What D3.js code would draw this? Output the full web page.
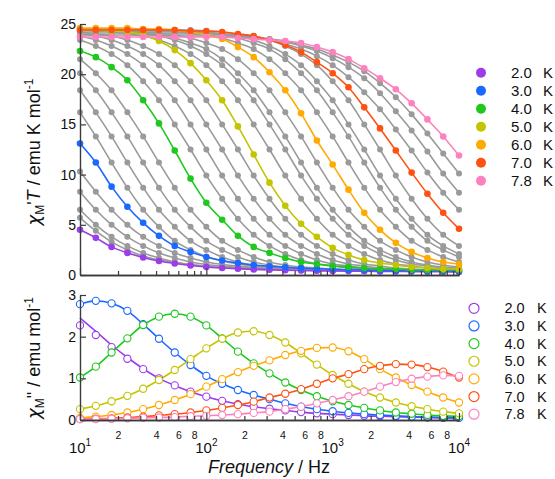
<!DOCTYPE html>
<html><head><meta charset="utf-8">
<script src="https://cdn.jsdelivr.net/npm/d3@7"></script>
<style>
body{margin:0;background:#fff}
svg{display:block}
text{font-family:"Liberation Sans",Arial,Helvetica,sans-serif;fill:#111}
</style>
</head><body>
<svg id="c" width="555" height="479"></svg>
<script>
// ---------------- DATA ----------------
const frequencies = [10, 13.34, 17.78, 23.71, 31.62, 42.17, 56.23, 74.99, 100, 133.4, 177.8, 237.1, 316.2, 421.7, 562.3, 749.9, 1000, 1334, 1778, 2371, 3162, 4217, 5623, 7499, 10000];
const temperatures = [2.0, 2.2, 2.4, 2.6, 2.8, 3.0, 3.2, 3.4, 3.6, 3.8, 4.0, 4.2, 4.4, 4.6, 4.8, 5.0, 5.2, 5.4, 5.6, 5.8, 6.0, 6.2, 6.4, 6.6, 6.8, 7.0, 7.2, 7.4, 7.6, 7.8];
const legendTemps = [2.0, 3.0, 4.0, 5.0, 6.0, 7.0, 7.8];
const yTopTicks = [0, 5, 10, 15, 20, 25];
const yBotTicks = [0, 1, 2, 3];
const minorLabels = ["2", "4", "6", "8"];

// chi'T (emu K mol-1) per temperature
const chiT_20 = [4.5,3.7,2.8,2.2,1.75,1.4,1.15,0.95,0.8,0.7,0.62,0.56,0.52,0.48,0.45,0.43,0.41,0.39,0.37,0.36,0.35,0.34,0.33,0.32,0.3];
const chiT_22 = [5.7,4.4,3.3,2.5,1.9,1.5,1.25,1.02,0.86,0.74,0.65,0.58,0.53,0.5,0.47,0.45,0.44,0.43,0.42,0.41,0.4,0.39,0.38,0.37,0.36];
const chiT_24 = [6.5,5.0,3.8,2.9,2.2,1.7,1.3,1.05,0.88,0.76,0.67,0.6,0.55,0.51,0.48,0.46,0.45,0.44,0.43,0.42,0.41,0.4,0.39,0.38,0.37];
const chiT_26 = [8.3,6.5,5.0,3.8,2.9,2.2,1.7,1.3,1.05,0.88,0.76,0.67,0.6,0.55,0.51,0.48,0.46,0.45,0.44,0.43,0.42,0.41,0.4,0.39,0.38];
const chiT_28 = [10.3,8.3,6.5,5.0,3.8,2.9,2.2,1.7,1.3,1.05,0.88,0.76,0.67,0.6,0.55,0.51,0.48,0.46,0.45,0.44,0.43,0.42,0.41,0.4,0.39];
const chiT_30 = [13.1,11.2,8.8,6.8,5.2,3.9,2.9,2.3,1.8,1.45,1.2,1.0,0.87,0.77,0.68,0.62,0.57,0.53,0.5,0.47,0.45,0.44,0.43,0.42,0.4];
const chiT_32 = [16.2,13.8,11.2,8.7,6.5,4.8,3.4,2.5,1.85,1.4,1.1,0.9,0.78,0.68,0.6,0.55,0.5,0.47,0.45,0.43,0.42,0.41,0.4,0.4,0.4];
const chiT_34 = [18.4,16.2,13.8,11.2,8.7,6.5,4.8,3.4,2.5,1.8,1.3,1.0,0.8,0.7,0.6,0.5,0.5,0.5,0.4,0.4,0.4,0.4,0.4,0.4,0.4];
const chiT_36 = [20.1,18.4,16.2,13.8,11.2,8.7,6.5,4.8,3.4,2.5,1.8,1.3,1.0,0.8,0.7,0.6,0.5,0.5,0.5,0.4,0.4,0.4,0.4,0.4,0.4];
const chiT_38 = [21.5,20.1,18.4,16.2,13.8,11.2,8.7,6.5,4.8,3.4,2.5,1.8,1.3,1.0,0.8,0.7,0.6,0.5,0.5,0.5,0.4,0.4,0.4,0.4,0.4];
const chiT_40 = [22.3,21.7,20.7,19.4,17.4,15.1,12.4,9.6,7.2,5.5,3.9,2.8,2.2,1.7,1.3,1.1,0.9,0.8,0.7,0.6,0.6,0.5,0.5,0.5,0.5];
const chiT_42 = [23.4,22.8,22.0,20.9,19.3,17.4,15.0,12.5,9.9,7.6,5.6,4.0,2.9,2.1,1.5,1.1,0.9,0.7,0.6,0.5,0.5,0.5,0.4,0.4,0.4];
const chiT_44 = [23.8,23.4,22.8,22.0,20.9,19.3,17.4,15.0,12.5,9.9,7.6,5.6,4.0,2.9,2.1,1.5,1.1,0.9,0.7,0.6,0.5,0.5,0.5,0.4,0.4];
const chiT_46 = [24.0,23.8,23.4,22.8,22.0,20.9,19.3,17.4,15.0,12.5,9.9,7.6,5.6,4.0,2.9,2.1,1.5,1.1,0.9,0.7,0.6,0.5,0.5,0.5,0.4];
const chiT_48 = [24.2,24.0,23.8,23.4,22.8,22.0,20.9,19.3,17.4,15.0,12.5,9.9,7.6,5.6,4.0,2.9,2.1,1.5,1.1,0.9,0.7,0.6,0.5,0.5,0.5];
const chiT_50 = [24.4,24.4,24.3,24.2,23.9,23.3,22.4,21.1,19.4,17.4,14.8,12.0,9.2,6.9,5.1,3.8,2.7,2.0,1.5,1.2,1.0,0.8,0.7,0.6,0.6];
const chiT_52 = [24.4,24.3,24.2,24.0,23.8,23.4,22.8,22.0,20.9,19.3,17.4,15.0,12.5,9.9,7.6,5.6,4.0,2.9,2.1,1.5,1.1,0.9,0.7,0.6,0.5];
const chiT_54 = [24.4,24.4,24.3,24.2,24.0,23.8,23.4,22.8,22.0,20.9,19.3,17.4,15.0,12.5,9.9,7.6,5.6,4.0,2.9,2.1,1.5,1.1,0.9,0.7,0.6];
const chiT_56 = [24.4,24.4,24.3,24.2,24.1,23.9,23.6,23.1,22.5,21.5,20.1,18.4,16.2,13.8,11.2,8.7,6.5,4.8,3.4,2.5,1.8,1.3,1.0,0.8,0.7];
const chiT_58 = [24.5,24.4,24.4,24.3,24.2,24.1,23.9,23.6,23.1,22.5,21.5,20.1,18.4,16.2,13.8,11.2,8.7,6.5,4.8,3.4,2.5,1.8,1.3,1.0,0.8];
const chiT_60 = [24.6,24.6,24.6,24.6,24.5,24.5,24.4,24.2,23.9,23.5,22.7,21.7,20.2,18.4,16.1,13.4,11.0,8.5,6.2,4.5,3.2,2.3,1.7,1.3,1.1];
const chiT_62 = [24.5,24.5,24.5,24.4,24.4,24.3,24.2,24.1,23.9,23.6,23.1,22.5,21.5,20.1,18.4,16.2,13.8,11.2,8.7,6.5,4.8,3.4,2.5,1.8,1.3];
const chiT_64 = [24.5,24.5,24.5,24.5,24.4,24.4,24.3,24.2,24.1,23.9,23.6,23.1,22.5,21.5,20.1,18.4,16.2,13.8,11.2,8.7,6.5,4.8,3.4,2.5,1.8];
const chiT_66 = [24.5,24.5,24.5,24.5,24.4,24.4,24.4,24.3,24.2,24.0,23.8,23.4,22.8,22.0,20.9,19.3,17.4,15.0,12.5,9.9,7.6,5.6,4.0,2.9,2.1];
const chiT_68 = [24.5,24.5,24.5,24.5,24.5,24.4,24.4,24.4,24.3,24.2,24.0,23.8,23.4,22.8,22.0,20.9,19.3,17.4,15.0,12.5,9.9,7.6,5.6,4.0,2.9];
const chiT_70 = [24.4,24.4,24.4,24.4,24.4,24.4,24.4,24.3,24.3,24.2,24.0,23.8,23.4,22.9,22.2,21.2,20.1,18.7,16.7,14.6,12.4,10.2,8.1,6.2,4.6];
const chiT_72 = [24.3,24.3,24.3,24.3,24.2,24.2,24.2,24.1,24.1,24.0,23.9,23.7,23.4,23.0,22.5,21.8,20.9,19.7,18.2,16.5,14.5,12.4,10.2,8.2,6.5];
const chiT_74 = [24.1,24.1,24.1,24.1,24.1,24.0,24.0,24.0,23.9,23.9,23.8,23.7,23.5,23.2,22.8,22.3,21.6,20.7,19.6,18.1,16.3,14.4,12.3,10.1,8.2];
const chiT_76 = [23.9,23.9,23.9,23.9,23.9,23.9,23.8,23.8,23.8,23.7,23.7,23.6,23.5,23.3,22.9,22.5,21.9,21.2,20.3,19.1,17.7,16.0,14.1,12.1,10.1];
const chiT_78 = [23.7,23.7,23.7,23.7,23.7,23.7,23.7,23.7,23.7,23.7,23.6,23.5,23.4,23.3,23.1,22.7,22.2,21.5,20.6,19.6,18.5,17.1,15.5,13.8,11.9];

// chi'' (emu mol-1) for the highlighted temperatures
const chi2_20 = [2.27,2.04,1.75,1.47,1.22,1.0,0.83,0.68,0.56,0.46,0.38,0.32,0.27,0.23,0.19,0.16,0.14,0.12,0.1,0.09,0.08,0.07,0.06,0.05,0.05];
const chi2fit_20 = [2.45,2.13,1.8,1.5,1.23,1.0,0.83,0.68,0.56,0.46,0.38,0.32,0.27,0.23,0.19,0.16,0.14,0.12,0.1,0.09,0.08,0.07,0.06,0.05,0.05];
const chi2_30 = [2.78,2.86,2.8,2.62,2.3,1.95,1.62,1.32,1.06,0.87,0.72,0.6,0.5,0.4,0.32,0.26,0.21,0.17,0.14,0.12,0.1,0.08,0.07,0.06,0.05];
const chi2_40 = [1.02,1.28,1.62,1.96,2.28,2.48,2.55,2.48,2.27,1.96,1.64,1.36,1.12,0.9,0.72,0.57,0.45,0.36,0.29,0.23,0.18,0.15,0.12,0.1,0.09];
const chi2_50 = [0.26,0.34,0.45,0.58,0.75,0.96,1.2,1.46,1.72,1.95,2.1,2.13,2.04,1.86,1.6,1.33,1.08,0.87,0.68,0.54,0.42,0.33,0.26,0.2,0.16];
const chi2_60 = [0.05,0.08,0.12,0.18,0.26,0.36,0.48,0.62,0.8,0.98,1.15,1.3,1.43,1.56,1.66,1.73,1.74,1.65,1.46,1.22,1.02,0.84,0.68,0.54,0.42];
const chi2_70 = [0.02,0.03,0.04,0.06,0.08,0.11,0.14,0.18,0.23,0.29,0.36,0.44,0.54,0.63,0.74,0.87,1.0,1.1,1.22,1.3,1.34,1.33,1.27,1.16,1.02];
const chi2_78 = [0.02,0.02,0.03,0.04,0.05,0.06,0.07,0.09,0.1,0.12,0.14,0.17,0.2,0.26,0.32,0.4,0.48,0.57,0.68,0.8,0.91,0.99,1.04,1.07,1.06];

// ---------------- BUILD ----------------
const chiTSeries = [chiT_20,chiT_22,chiT_24,chiT_26,chiT_28,chiT_30,chiT_32,chiT_34,chiT_36,chiT_38,chiT_40,chiT_42,chiT_44,chiT_46,chiT_48,chiT_50,chiT_52,chiT_54,chiT_56,chiT_58,chiT_60,chiT_62,chiT_64,chiT_66,chiT_68,chiT_70,chiT_72,chiT_74,chiT_76,chiT_78];
const chi2Series = [chi2_20,chi2_30,chi2_40,chi2_50,chi2_60,chi2_70,chi2_78];
const chi2Fits = [chi2fit_20,chi2_30,chi2_40,chi2_50,chi2_60,chi2_70,chi2_78];

const colors = {"2.0":"#9b3de8","3.0":"#1a68ff","4.0":"#1ec81e","5.0":"#c4c400","6.0":"#ffaa00","7.0":"#ff5212","7.8":"#ff80bf"};
const GRAY = "#9a9a9a";
const AX = "#3a3a3a";

const svg = d3.select("#c");
const x = d3.scaleLog().domain([10, 10000]).range([80, 459]);
const yT = d3.scaleLinear().domain([0, 25]).range([275, 24]);
const yB = d3.scaleLinear().domain([0, 3]).range([420, 295]);

const majors = [10, 100, 1000, 10000];
const minors = [];
[10, 100, 1000].forEach(d => { for (let k = 2; k <= 9; k++) minors.push(d * k); });
const minorLab = [];
[10, 100, 1000].forEach(d => { minorLabels.forEach(s => minorLab.push(d * (+s))); });

function styleAxis(g) {
  g.selectAll(".domain").attr("stroke", AX).attr("stroke-width", 1.4);
  g.selectAll(".tick line").attr("stroke", AX).attr("stroke-width", 1.2);
  g.selectAll("text").attr("fill", "#111");
}

function xAxes(yPos, withLabels) {
  const gMin = svg.append("g").attr("transform", `translate(0,${yPos})`)
    .call(d3.axisBottom(x).tickValues(minors).tickSizeInner(-4).tickSizeOuter(0).tickFormat(""));
  styleAxis(gMin);
  const gMaj = svg.append("g").attr("transform", `translate(0,${yPos})`)
    .call(d3.axisBottom(x).tickValues(majors).tickSizeInner(-7).tickSizeOuter(0).tickFormat(""));
  styleAxis(gMaj);
  if (withLabels) {
    const gL = svg.append("g").attr("transform", `translate(0,${yPos})`)
      .call(d3.axisBottom(x).tickValues(minorLab).tickSize(0).tickPadding(12)
        .tickFormat(d => String(Math.round(d / Math.pow(10, Math.floor(Math.log10(d) + 1e-9))))));
    gL.select(".domain").remove();
    gL.selectAll("text").attr("font-size", 10.5).attr("font-family", "Liberation Sans, Arial, sans-serif").attr("fill", "#111");
    majors.forEach((m, i) => {
      const t = svg.append("text").attr("x", x(m)).attr("y", yPos + 32.5)
        .attr("text-anchor", "middle").attr("font-size", 15);
      t.append("tspan").text("10");
      t.append("tspan").attr("dy", -7).attr("font-size", 10).text(String(i + 1));
    });
  }
}

function yAxis(scale, ticks) {
  const g = svg.append("g").attr("transform", "translate(80,0)")
    .call(d3.axisLeft(scale).tickValues(ticks).tickFormat(d3.format("d")).tickSizeInner(-6).tickSizeOuter(0).tickPadding(4));
  styleAxis(g);
  g.selectAll("text").attr("font-size", 14).attr("font-family", "Liberation Sans, Arial, sans-serif");
}

// ---- top panel ----
const lineT = d3.line().x((d, i) => x(frequencies[i])).y(d => yT(d)).curve(d3.curveMonotoneX);
const topData = temperatures.map((t, i) => ({ t: t.toFixed(1), v: chiTSeries[i] }));
const grays = topData.filter(d => !colors[d.t]);
const colored = topData.filter(d => colors[d.t]);

const gTop = svg.append("g");
function drawTop(list, isColored) {
  list.forEach(s => {
    const c = isColored ? colors[s.t] : GRAY;
    gTop.append("path").attr("d", lineT(s.v)).attr("fill", "none").attr("stroke", c).attr("stroke-width", 1.6);
    gTop.selectAll(null).data(s.v).enter().append("circle")
      .attr("cx", (d, i) => x(frequencies[i])).attr("cy", d => yT(d))
      .attr("r", isColored ? 3.3 : 3).attr("fill", c);
  });
}
drawTop(grays, false);
drawTop(colored, true);

yAxis(yT, yTopTicks);
xAxes(275, false);

// ---- bottom panel ----
const lineB = d3.line().x((d, i) => x(frequencies[i])).y(d => yB(d)).curve(d3.curveMonotoneX);
const gBot = svg.append("g");
legendTemps.forEach((t, k) => {
  const c = colors[t.toFixed(1)];
  gBot.append("path").attr("d", lineB(chi2Fits[k])).attr("fill", "none").attr("stroke", c).attr("stroke-width", 1.6);
});
legendTemps.forEach((t, k) => {
  const c = colors[t.toFixed(1)];
  gBot.selectAll(null).data(chi2Series[k]).enter().append("circle")
    .attr("cx", (d, i) => x(frequencies[i])).attr("cy", d => yB(d))
    .attr("r", 3.6).attr("fill", "#fff").attr("stroke", c).attr("stroke-width", 1.1);
});

yAxis(yB, yBotTicks);
xAxes(420, true);

// ---- axis titles ----
const CHI_FONT = "DejaVu Sans, Liberation Sans, sans-serif";
const t1 = svg.append("text").attr("transform", "translate(40,152) rotate(-90)")
  .attr("text-anchor", "middle").attr("font-size", 18);
t1.append("tspan").attr("font-family", CHI_FONT).attr("font-style", "italic").text("χ");
t1.append("tspan").attr("font-size", 12).attr("dy", 4).text("M");
t1.append("tspan").attr("dy", -4).text("'");
t1.append("tspan").attr("font-style", "italic").text("T");
t1.append("tspan").text(" / emu K mol");
t1.append("tspan").attr("font-size", 12).attr("dy", -7).text("-1");

const t2 = svg.append("text").attr("transform", "translate(40,358) rotate(-90)")
  .attr("text-anchor", "middle").attr("font-size", 18);
t2.append("tspan").attr("font-family", CHI_FONT).attr("font-style", "italic").text("χ");
t2.append("tspan").attr("font-size", 12).attr("dy", 4).text("M");
t2.append("tspan").attr("dy", -4).text("\" / emu mol");
t2.append("tspan").attr("font-size", 12).attr("dy", -7).text("-1");

const t3 = svg.append("text").attr("x", 269).attr("y", 473).attr("text-anchor", "middle").attr("font-size", 18);
t3.append("tspan").attr("font-style", "italic").text("Frequency");
t3.append("tspan").text(" / Hz");

// ---- legends ----
legendTemps.forEach((t, k) => {
  const c = colors[t.toFixed(1)];
  const yy = 72.7 + 18 * k;
  svg.append("circle").attr("cx", 481).attr("cy", yy).attr("r", 5).attr("fill", c);
  svg.append("text").attr("x", 511).attr("y", yy + 5.3).attr("font-size", 15).text(t.toFixed(1));
  svg.append("text").attr("x", 543).attr("y", yy + 5.3).attr("font-size", 15).text("K");
});
legendTemps.forEach((t, k) => {
  const c = colors[t.toFixed(1)];
  const yy = 308.3 + 17.65 * k;
  svg.append("circle").attr("cx", 474).attr("cy", yy).attr("r", 5).attr("fill", "none").attr("stroke", c).attr("stroke-width", 1.2);
  svg.append("text").attr("x", 504.5).attr("y", yy + 5).attr("font-size", 14.5).text(t.toFixed(1));
  svg.append("text").attr("x", 537).attr("y", yy + 5).attr("font-size", 14.5).text("K");
});
</script>
</body></html>
